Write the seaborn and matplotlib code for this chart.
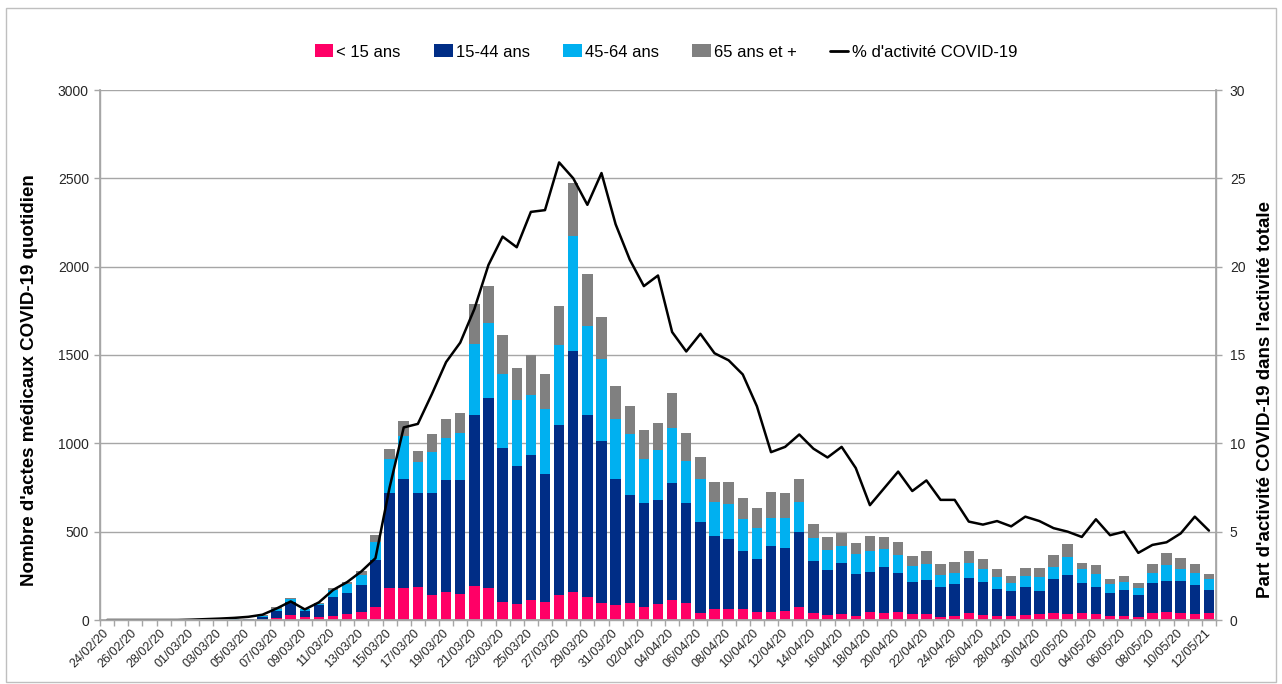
import numpy as np
import pandas as pd
import matplotlib
matplotlib.use("Agg")
import matplotlib.pyplot as plt
import seaborn as sns
from matplotlib.patches import Patch, Rectangle
from matplotlib.lines import Line2D

# ---------------- data ----------------
dates = ["24/02/20", "25/02/20", "26/02/20", "27/02/20", "28/02/20", "29/02/20",
         "01/03/20", "02/03/20", "03/03/20", "04/03/20", "05/03/20", "06/03/20",
         "07/03/20", "08/03/20", "09/03/20", "10/03/20", "11/03/20", "12/03/20",
         "13/03/20", "14/03/20", "15/03/20", "16/03/20", "17/03/20", "18/03/20",
         "19/03/20", "20/03/20", "21/03/20", "22/03/20", "23/03/20", "24/03/20",
         "25/03/20", "26/03/20", "27/03/20", "28/03/20", "29/03/20", "30/03/20",
         "31/03/20", "01/04/20", "02/04/20", "03/04/20", "04/04/20", "05/04/20",
         "06/04/20", "07/04/20", "08/04/20", "09/04/20", "10/04/20", "11/04/20",
         "12/04/20", "13/04/20", "14/04/20", "15/04/20", "16/04/20", "17/04/20",
         "18/04/20", "19/04/20", "20/04/20", "21/04/20", "22/04/20", "23/04/20",
         "24/04/20", "25/04/20", "26/04/20", "27/04/20", "28/04/20", "29/04/20",
         "30/04/20", "01/05/20", "02/05/20", "03/05/20", "04/05/20", "05/05/20",
         "06/05/20", "07/05/20", "08/05/20", "09/05/20", "10/05/20", "11/05/20",
         "12/05/21"]

under_15 = [0, 0, 0, 0, 0, 0, 0, 0, 0, 0, 1, 2,
            10, 30, 15, 15, 25, 34, 47, 75, 183, 183, 185, 142,
            160, 147, 192, 179, 104, 91, 113, 100, 142, 160, 132, 98,
            85, 94, 75, 91, 113, 94, 42, 60, 64, 60, 47, 47,
            53, 72, 38, 28, 32, 25, 43, 42, 43, 32, 34, 19,
            23, 38, 28, 25, 23, 28, 34, 42, 34, 38, 32, 25,
            25, 19, 38, 43, 38, 32, 38]

age_15_44 = [0, 0, 0, 0, 0, 0, 0, 0, 0, 2, 4, 15,
             40, 72, 38, 68, 107, 117, 151, 265, 538, 613, 532, 575,
             633, 646, 968, 1076, 872, 783, 821, 725, 962, 1365, 1028, 917,
             711, 614, 585, 588, 664, 566, 515, 416, 395, 333, 298, 374,
             356, 428, 296, 255, 289, 234, 227, 260, 221, 181, 192, 170,
             181, 198, 189, 152, 139, 161, 132, 190, 221, 170, 157, 126,
             145, 124, 173, 180, 183, 166, 132]

age_45_64 = [0, 0, 0, 0, 0, 0, 0, 0, 0, 1, 2, 8,
             12, 15, 8, 10, 38, 51, 57, 103, 189, 248, 176, 236,
             235, 264, 401, 428, 415, 371, 340, 368, 453, 649, 506, 463,
             340, 343, 251, 283, 308, 242, 241, 194, 196, 179, 178, 158,
             167, 170, 128, 113, 98, 113, 121, 100, 104, 93, 91, 66,
             64, 85, 70, 65, 49, 62, 79, 66, 104, 79, 71, 53,
             47, 40, 53, 86, 70, 66, 60]

age_65_plus = [0, 0, 0, 0, 0, 0, 0, 0, 0, 0, 1, 2,
               10, 9, 4, 5, 9, 15, 24, 38, 58, 84, 66, 100,
               108, 113, 226, 210, 222, 183, 226, 200, 221, 298, 293, 235,
               189, 160, 165, 155, 198, 155, 127, 113, 128, 121, 109, 144,
               141, 128, 81, 76, 72, 66, 86, 70, 75, 58, 75, 62,
               62, 71, 56, 47, 38, 41, 51, 70, 69, 34, 51, 28,
               34, 25, 53, 68, 58, 51, 29]

pct_covid = [0, 0, 0, 0, 0, 0, 0.02, 0.05, 0.08, 0.12, 0.18, 0.3,
             0.65, 1.05, 0.6, 1.0, 1.7, 2.15, 2.75, 3.5, 7.5, 10.9, 11.1, 12.8,
             14.6, 15.7, 17.6, 20.1, 21.7, 21.1, 23.1, 23.2, 25.9, 25.0, 23.5, 25.3,
             22.4, 20.4, 18.9, 19.5, 16.3, 15.2, 16.2, 15.1, 14.7, 13.9, 12.1, 9.5,
             9.8, 10.5, 9.7, 9.2, 9.8, 8.6, 6.5, 7.45, 8.4, 7.3, 7.9, 6.8,
             6.8, 5.57, 5.4, 5.6, 5.3, 5.85, 5.6, 5.2, 5.0, 4.7, 5.7, 4.8,
             5.0, 3.8, 4.25, 4.4, 4.9, 5.85, 5.06]

series_labels = ["< 15 ans", "15-44 ans", "45-64 ans", "65 ans et +"]
line_label = "% d'activité COVID-19"
colors = ["#FF0066", "#002D86", "#00B0F0", "#808080"]

# ---------------- style ----------------
sns.set_theme(style="white")
plt.rcParams['font.family'] = ['Liberation Sans', 'DejaVu Sans']

df = pd.DataFrame({
    "date": dates,
    "u15": under_15,
    "a1544": age_15_44,
    "a4564": age_45_64,
    "a65": age_65_plus,
})
df["c1"] = df["u15"]
df["c2"] = df["c1"] + df["a1544"]
df["c3"] = df["c2"] + df["a4564"]
df["c4"] = df["c3"] + df["a65"]

fig = plt.figure(figsize=(12.82, 6.84), dpi=100)
ax = fig.add_axes([100 / 1282, 1 - 620 / 684, 1116 / 1282, 530 / 684])

grid_c = "#A6A6A6"
text_c = "#262626"

for col, colr in zip(["c4", "c3", "c2", "c1"], colors[::-1]):
    sns.barplot(data=df, x="date", y=col, order=dates, color=colr,
                saturation=1, width=0.74, linewidth=0, edgecolor="none", ax=ax)

n = len(dates)
ax.set_xlim(-0.5, n - 0.5)
ax.set_ylim(0, 3000)
ax.set_yticks(np.arange(0, 3001, 500))
ax.yaxis.grid(True, color=grid_c, linewidth=1)
ax.set_axisbelow(True)
ax.set_xlabel("")
ax.set_ylabel("")

ax.set_xticks(np.arange(0, n, 2))
ax.set_xticklabels(dates[::2], rotation=45, ha="right", va="center",
                   rotation_mode="anchor", fontsize=9, color=text_c)
ax.set_xticks(np.arange(-0.5, n, 1), minor=True)
ax.tick_params(axis="x", which="major", length=0, pad=8)
ax.tick_params(axis="x", which="minor", length=4, color=grid_c, width=1,
               direction="out", bottom=True)
ax.tick_params(axis="y", length=4, color=grid_c, width=1, direction="out",
               left=True, labelsize=10, labelcolor=text_c, pad=4)

for s in ["left", "bottom", "right"]:
    ax.spines[s].set_color(grid_c)
    ax.spines[s].set_linewidth(1)
ax.spines["top"].set_visible(False)

ax2 = ax.twinx()
sns.lineplot(x=np.arange(n), y=pct_covid, ax=ax2, color="black",
             linewidth=1.8, legend=False)
ax2.set_ylim(0, 30)
ax2.set_yticks(np.arange(0, 31, 5))
ax2.set_xlim(-0.5, n - 0.5)
ax2.tick_params(axis="y", length=4, color=grid_c, width=1, direction="out",
                right=True, labelsize=10, labelcolor=text_c, pad=6)
for s in ["left", "bottom", "right"]:
    ax2.spines[s].set_color(grid_c)
ax2.spines["top"].set_visible(False)
ax2.set_ylabel("")

fig.text(30 / 1282, 1 - 380 / 684, "Nombre d'actes médicaux COVID-19 quotidien",
         rotation=90, ha="center", va="center", fontsize=13.5, fontweight="bold",
         color="black")
fig.text(1265 / 1282, 1 - 400 / 684, "Part d'activité COVID-19 dans l'activité totale",
         rotation=90, ha="center", va="center", fontsize=13.5, fontweight="bold",
         color="black")

handles = [Patch(facecolor=c, edgecolor="none") for c in colors]
handles.append(Line2D([0], [0], color="black", linewidth=2))
fig.legend(handles, series_labels + [line_label], loc="center",
           bbox_to_anchor=(666 / 1282, 1 - 52 / 684), ncol=5, frameon=False,
           fontsize=12, handlelength=1.1, handleheight=0.8, handletextpad=0.2,
           columnspacing=2.0, labelcolor="black")

fig.patches.append(Rectangle((6 / 1282, 2 / 684), 1270 / 1282, 674 / 684,
                             transform=fig.transFigure, fill=False,
                             edgecolor="#BFBFBF", linewidth=1))

fig.savefig("out.png", dpi=100)
